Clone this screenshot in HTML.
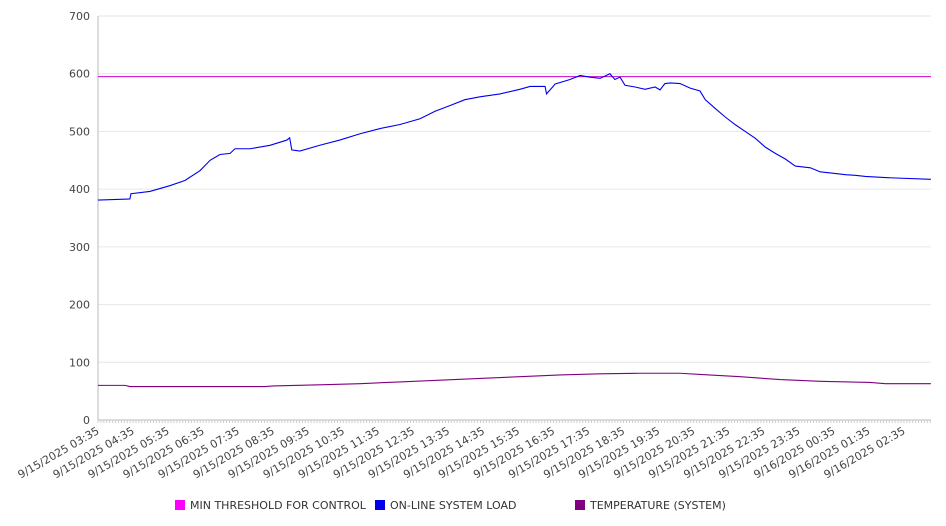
<!DOCTYPE html>
<html><head><meta charset="utf-8"><style>
body{margin:0;background:#fff;}
svg{display:block;font-family:"DejaVu Sans","Liberation Sans",sans-serif;}
</style></head><body>
<svg id="chart" width="946" height="526" viewBox="0 0 946 526" xmlns="http://www.w3.org/2000/svg"></svg>
<script>
const yTicks=[0,100,200,300,400,500,600,700];
const xLabels=["9/15/2025 03:35","9/15/2025 04:35","9/15/2025 05:35","9/15/2025 06:35","9/15/2025 07:35","9/15/2025 08:35","9/15/2025 09:35","9/15/2025 10:35","9/15/2025 11:35","9/15/2025 12:35","9/15/2025 13:35","9/15/2025 14:35","9/15/2025 15:35","9/15/2025 16:35","9/15/2025 17:35","9/15/2025 18:35","9/15/2025 19:35","9/15/2025 20:35","9/15/2025 21:35","9/15/2025 22:35","9/15/2025 23:35","9/16/2025 00:35","9/16/2025 01:35","9/16/2025 02:35"];
const thresholdValue=595;
const loadHours=[0,0.91,0.94,1.48,2.05,2.48,2.91,3.2,3.48,3.77,3.91,4.34,4.91,5.39,5.47,5.53,5.76,6.33,6.9,7.48,8.05,8.62,9.19,9.62,10.05,10.47,10.9,11.47,12.04,12.33,12.76,12.8,12.99,13.04,13.47,13.76,14.04,14.33,14.61,14.75,14.9,15.04,15.33,15.61,15.9,16.04,16.18,16.33,16.61,16.9,17.18,17.33,17.61,17.9,18.18,18.47,18.76,19.04,19.33,19.62,19.9,20.33,20.61,20.9,21.33,21.61,21.9,22.47,23.77];
const loadValues=[381,383,392,396,406,415,432,450,460,462,470,470,476,485,489,468,466,476,485,496,505,512,522,535,545,555,560,565,573,578,578,565,578,582,590,597,594,592,600,590,594,580,577,573,577,572,583,584,583,575,570,555,540,525,512,500,488,473,462,452,440,437,430,428,425,424,422,420,417];
const tempHours=[0,0.77,0.91,4.76,5.0,6.33,7.48,8.62,9.76,10.9,12.04,13.19,14.33,15.47,16.04,16.61,17.18,18.33,19.47,20.61,22.04,22.47,23.77];
const tempValues=[60,60,58,58,59,61,63,66,69,72,75,78,80,81,81,81,79,75,70,67,65,63,63];
const seriesNames=["MIN THRESHOLD FOR CONTROL","ON-LINE SYSTEM LOAD","TEMPERATURE (SYSTEM)"];
const seriesColors=["#ff00ff","#0000ee","#800080"];

const svg=document.getElementById('chart');
const NS='http://www.w3.org/2000/svg';
const X0=98,X1=931,Y0=420,Y1=16,HOUR=35.04;
const xs=h=>X0+h*HOUR;
const ys=v=>Y0-(v/700)*(Y0-Y1);
function mk(t,a){const e=document.createElementNS(NS,t);for(const k in a)e.setAttribute(k,a[k]);svg.appendChild(e);return e;}

yTicks.forEach(v=>{
  const g=mk('line',{x1:X0,x2:X1,y1:ys(v),y2:ys(v),stroke:v===0?'#bbb':'#e6e6e6','stroke-width':1});
  
  
  const t=mk('text',{x:90,y:ys(v)+4,'text-anchor':'end','font-size':11,fill:'#444'});
  t.textContent=v;
  
  
});
const ax=mk('line',{x1:X0,x2:X0,y1:Y1,y2:Y0,stroke:'#bbb'});


for(let h=0;h<=23.77;h+=1/12){
  const tk=mk('line',{x1:xs(h),x2:xs(h),y1:Y0,y2:Y0+3,stroke:'#ccc'});
  
  
}
xLabels.forEach((l,i)=>{
  const x=xs(i)+2,y=Y0+13;
  const t=mk('text',{x:x,y:y,'text-anchor':'end','font-size':11,fill:'#444',transform:`rotate(-30 ${x} ${y})`});
  t.textContent=l;
  
  
});
const th=mk('line',{x1:X0,x2:X1,y1:ys(thresholdValue),y2:ys(thresholdValue),stroke:'#cc00cc','stroke-width':1});


function line(hs,vs,c,name){
  const p=mk('polyline',{points:hs.map((h,i)=>xs(h)+','+ys(vs[i])).join(' '),fill:'none',stroke:c,'stroke-width':1.1});
  
  
}
line(tempHours,tempValues,seriesColors[2],'temperature-line');
line(loadHours,loadValues,seriesColors[1],'system-load-line');
const lx=[175,375,575];
seriesNames.forEach((n,i)=>{
  const r=mk('rect',{x:lx[i],y:500,width:10,height:10,fill:seriesColors[i]});
  
  
  const t=mk('text',{x:lx[i]+15,y:509,'font-size':11,fill:'#333'});
  t.textContent=n;
  
  
});
</script>
</body></html>
